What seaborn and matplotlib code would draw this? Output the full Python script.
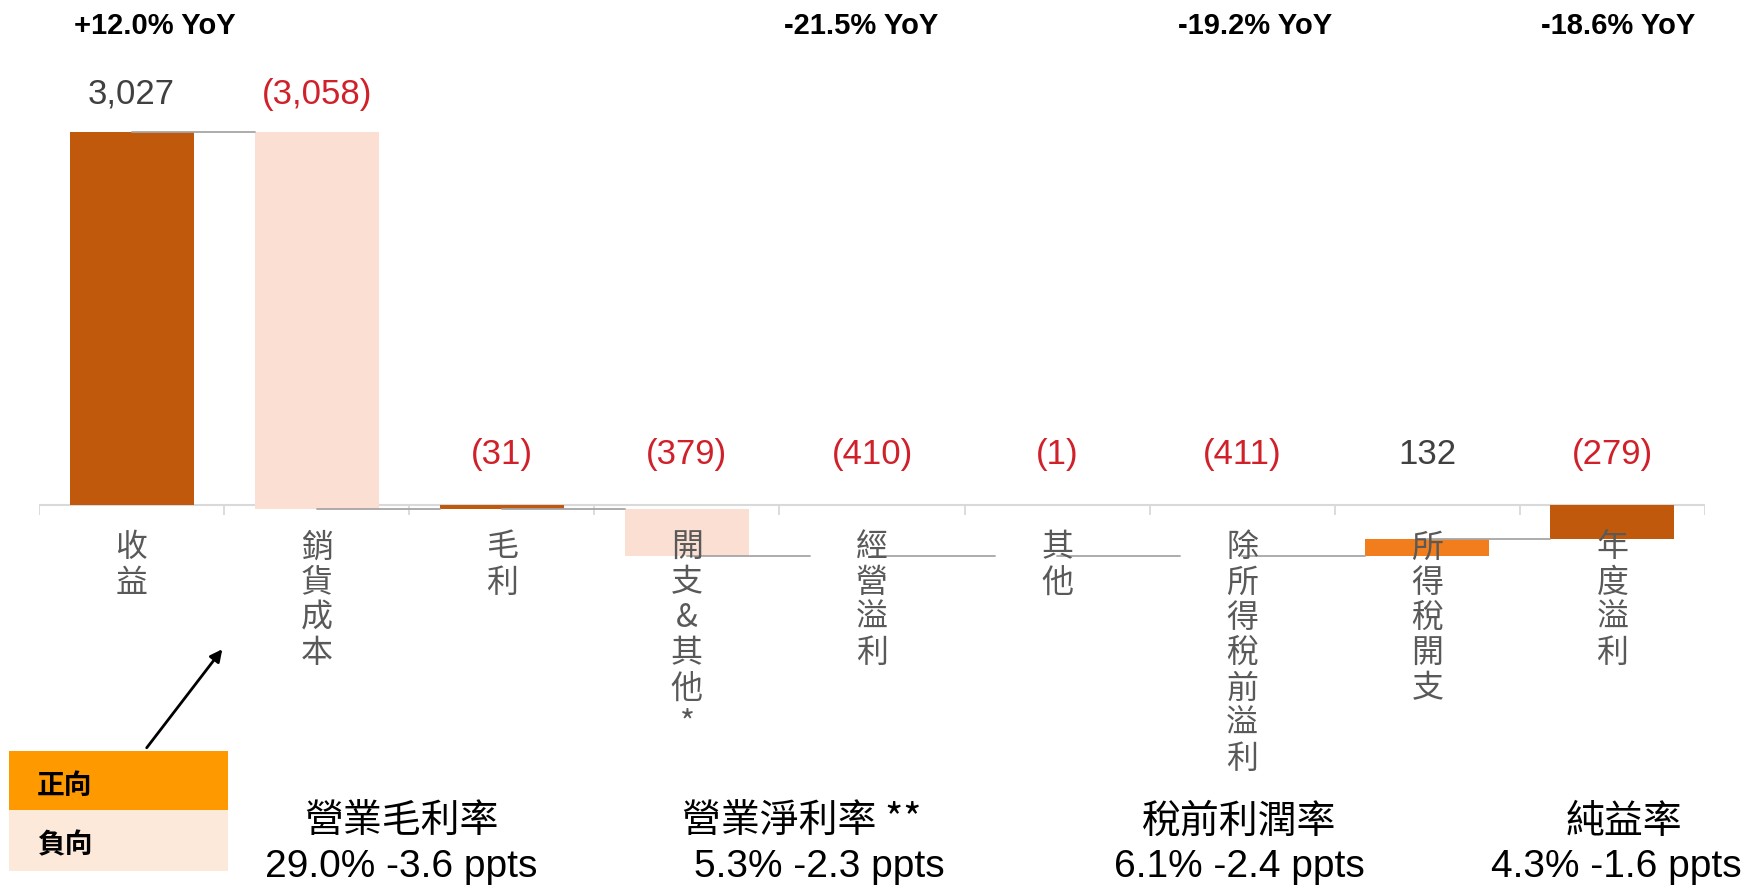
import matplotlib
matplotlib.use("Agg")
import matplotlib.pyplot as plt
from matplotlib import font_manager as fm
from matplotlib.patches import Rectangle
import seaborn as sns
import numpy as np

# ---------------- data ----------------
categories = ["收益", "銷貨成本", "毛利", "開支&其他*", "經營溢利", "其他",
              "除所得稅前溢利", "所得稅開支", "年度溢利"]
values = [3027, -3058, -31, -379, -410, -1, -411, 132, -279]
is_total = [True, False, True, False, True, False, True, False, True]
bar_colors = ["#C0590C", "#FBDFD3", "#C0590C", "#FBDFD3", "#FFFFFF",
              "#FBDFD3", "#FFFFFF", "#F27D1C", "#C0590C"]
hidden = [False, False, False, False, True, False, True, False, False]

yoy_labels = ["+12.0% YoY", "-21.5% YoY", "-19.2% YoY", "-18.6% YoY"]
margin_titles = ["營業毛利率", "營業淨利率 **", "稅前利潤率", "純益率"]
margin_values = ["29.0% -3.6 ppts", "5.3% -2.3 ppts", "6.1% -2.4 ppts", "4.3% -1.6 ppts"]
legend_labels = ["正向", "負向"]
legend_colors = ["#FF9900", "#FDE9D9"]

# ---------------- fonts ----------------
avail = {f.name for f in fm.fontManager.ttflist}
NUM = "Liberation Sans Narrow" if "Liberation Sans Narrow" in avail else "Liberation Sans"
CJK = "Noto Sans CJK TC"

sns.set_theme(style="white")
plt.rcParams["font.family"] = [CJK, "DejaVu Sans"]

W, H = 1747, 888
fig = plt.figure(figsize=(W / 100, H / 100), dpi=100)
fig.patch.set_facecolor("white")

ax = fig.add_axes([39 / W, 0.223, (1705 - 39) / W, 0.639])

# waterfall bottoms
bottoms, levels = [], []
run = 0
for v, t in zip(values, is_total):
    if t:
        bottoms.append(0)
        run = v
    else:
        bottoms.append(run)
        run = run + v
    levels.append(run)

pal = dict(zip(categories, bar_colors))
bw = 0.67
sns.barplot(x=categories, y=values, hue=categories, palette=pal, width=bw,
            saturation=1, legend=False, dodge=False, ax=ax, zorder=2)
for p, b, hdn in zip(ax.patches, bottoms, hidden):
    p.set_y(b)
    p.set_edgecolor("none")
    if hdn:
        p.set_alpha(0)

ax.set_xlim(-0.5, len(categories) - 0.5)
ax.set_ylim(-1500, 3100)
for s in ax.spines.values():
    s.set_visible(False)
ax.set_yticks([])
ax.set_xticks([])
ax.set_xlabel("")
ax.set_ylabel("")

# axis baseline and boundary ticks
ax.axhline(0, color="#D9D9D9", lw=1.5, zorder=1)
ax.vlines(np.arange(-0.5, len(categories)), -80, 0, color="#D9D9D9", lw=1.3, zorder=1)

# connectors
for i in range(len(categories) - 1):
    ax.plot([i, i + 1 - bw / 2], [levels[i], levels[i]], color="#A6A6A6", lw=1.3, zorder=3)

# category labels (vertical, below the baseline)
for i, c in enumerate(categories):
    ax.annotate("\n".join(c), xy=(i, 0), xytext=(0, -19), textcoords="offset points",
                ha="center", va="top", fontsize=23, color="#595959",
                linespacing=1.13, family=[CJK, "DejaVu Sans"], zorder=4,
                annotation_clip=False)

# value labels
for i, (v, b) in enumerate(zip(values, bottoms)):
    top = max(b, b + v, 0)
    txt = f"{v:,}" if v >= 0 else f"({-v:,})"
    col = "#404040" if v >= 0 else "#D0202A"
    off = 27 if top > 1000 else 36
    ax.annotate(txt, xy=(i, top), xytext=(0, off), textcoords="offset points",
                ha="center", va="center", fontsize=25, color=col, family=NUM)

# YoY annotations
yoy_x = [155, 861, 1255, 1618]
for x, t in zip(yoy_x, yoy_labels):
    fig.text(x / W, 1 - 26 / H, t, ha="center", va="center", fontsize=21,
             fontweight="bold", family=NUM, color="black")

# margin summaries
title_x = [401, 802, 1239, 1624]
val_x = [401, 819, 1239, 1616]
for tx, vx, t, v in zip(title_x, val_x, margin_titles, margin_values):
    fig.text(tx / W, 1 - 822 / H, t, ha="center", va="center", fontsize=28,
             family=[CJK, "DejaVu Sans"], color="black")
    fig.text(vx / W, 1 - 867 / H, v, ha="center", va="center", fontsize=28,
             family=NUM, color="black")

# legend boxes
box_y = [751, 810]
box_h = [59, 61]
for y, h, lab, col in zip(box_y, box_h, legend_labels, legend_colors):
    fig.patches.append(Rectangle((9 / W, 1 - (y + h) / H), 219 / W, h / H,
                                 transform=fig.transFigure, facecolor=col,
                                 edgecolor="none", zorder=0))
    fig.text(37 / W, 1 - (y + h / 2 + 5) / H, lab, ha="left", va="center",
             fontsize=20, fontweight="bold", color="black", family=[CJK])

# arrow
fig.add_artist(matplotlib.patches.FancyArrowPatch(
    (145 / W, 1 - 750 / H), (224 / W, 1 - 647 / H), transform=fig.transFigure,
    arrowstyle="-|>", mutation_scale=18, color="black", lw=2))

fig.savefig("out.png", dpi=100, facecolor="white")
